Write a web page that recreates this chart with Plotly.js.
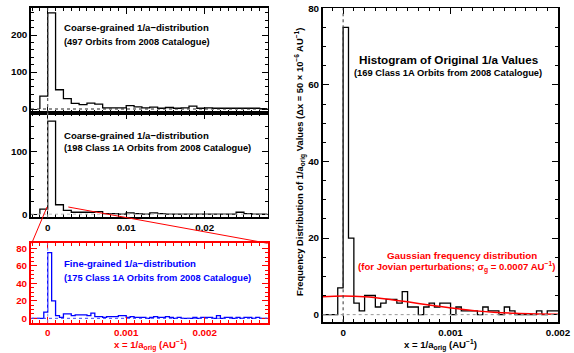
<!DOCTYPE html>
<html><head><meta charset="utf-8">
<script src="https://cdn.plot.ly/plotly-3.0.1.min.js"></script>
<style>html,body{margin:0;padding:0;background:#fff;} #chart{width:574px;height:353px;}</style>
</head><body><div id="chart"></div>
<script>
// ---- data ----
// Coarse-grained histograms (bin width 0.001 AU^-1, first bin starts at -0.001)
const coarseBinStart = -0.001;
const coarseBinWidth = 0.001;
const coarseAll497 = [35,260,52,28,15,12,16,13,3,3,3,9,6,3,5,2,4,2,3,8,2,3,2,2,2,2,2,2,1];
const coarse1A198 = [8,148,15,6,3,3,3,4,1,1,0,2,1,0,2,1,0,0,0,0,0,0,0,0,0,3,1,0,0];
// Fine-grained histogram (bin width 50e-6 AU^-1, first bin starts at -0.0002)
const fineBinStart = -0.0002;
const fineBinWidth = 0.00005;
const fine1A175 = [0,0,0,7,75,20,3,1,5,5,3,4,4,4,3,6,2,2,1,2,2,2,3,3,1,2,1,1,1,0,1,2,1,1,2,1,0,1,0,0,0,1,0,1,1,1,0,3,0,1,1,0,1,0,1,1,0,1,0,0,0];
// Histogram of original 1/a values (bin width 50e-6 AU^-1)
const origBinStart = -0.0002;
const origBinWidth = 0.00005;
const orig1A169 = [0,0,0,7,75,20,3,1,5,5,2,3,4,4,3,6,2,2,0,2,3,2,3,3,0,2,1,1,1,0,2,1,1,0,2,1,0,0,0,0,1,0,1,1];
// Gaussian frequency distribution
const gaussX = [-0.0002,0,0.0002,0.0004,0.0006,0.0008,0.001,0.0012,0.0014,0.0016,0.0018,0.002];
const gaussY = [4.65,4.85,4.65,4.1,3.35,2.5,1.75,1.1,0.65,0.35,0.18,0.08];
// tick labels
const coarseTickVals = [0,0.01,0.02];
const coarseTickText = ['0','0.01','0.02'];
const fineTickVals = [0,0.001,0.002];
const fineTickText = ['0','0.001','0.002'];

// ---- helpers ----
function stepXY(start,width,vals){
  const x=[start], y=[0];
  for(let i=0;i<vals.length;i++){ x.push(start+i*width); y.push(vals[i]); }
  x.push(start+vals.length*width); y.push(vals[vals.length-1]);
  return {x,y};
}
const W=574,H=353;
const FONT='Liberation Sans, Arial, sans-serif';
const TF=9.8;
function px(x,y){ return {x:x/W, y:1-y/H, xref:'paper', yref:'paper'}; }
function ax(o,color){
  color=color||'black';
  const base={showline:true, linecolor:color, linewidth:1.7, mirror:'allticks', ticks:'inside',
    ticklen:6, tickwidth:1, tickcolor:color, showgrid:false, zeroline:false, fixedrange:true,
    tickfont:{family:FONT,size:TF,color:color,weight:'bold'}};
  return Object.assign(base,o);
}
function minor(d,color){ return {ticks:'inside', ticklen:3, dtick:d, tick0:0, tickcolor:color||'black', tickwidth:1, showgrid:false}; }

const s1=stepXY(coarseBinStart,coarseBinWidth,coarseAll497);
const s2=stepXY(coarseBinStart,coarseBinWidth,coarse1A198);
const s3=stepXY(fineBinStart,fineBinWidth,fine1A175);
const s4=stepXY(origBinStart,origBinWidth,orig1A169);

const traces=[
  {type:'scatter',mode:'lines',x:s1.x,y:s1.y,xaxis:'x',yaxis:'y',line:{shape:'hv',color:'#000',width:1.3},hoverinfo:'skip'},
  {type:'scatter',mode:'lines',x:s2.x,y:s2.y,xaxis:'x2',yaxis:'y2',line:{shape:'hv',color:'#000',width:1.3},hoverinfo:'skip'},
  {type:'scatter',mode:'lines',x:s3.x,y:s3.y,xaxis:'x3',yaxis:'y3',line:{shape:'hv',color:'#0000ff',width:1.3},hoverinfo:'skip'},
  {type:'scatter',mode:'lines',x:s4.x,y:s4.y,xaxis:'x4',yaxis:'y4',line:{shape:'hv',color:'#000',width:1.3},hoverinfo:'skip'},
  {type:'scatter',mode:'lines',x:gaussX,y:gaussY,xaxis:'x4',yaxis:'y4',line:{shape:'spline',color:'#ff0000',width:1.5},hoverinfo:'skip'}
];

const L0=31/W, L1=267.5/W;
const layout={
  width:W,height:H,margin:{l:0,r:0,t:0,b:0},paper_bgcolor:'#fff',plot_bgcolor:'rgba(0,0,0,0)',
  showlegend:false, font:{family:FONT,size:9,color:'black',weight:'bold'},
  xaxis:ax({domain:[L0,L1],anchor:'y',range:[-0.00213,0.0280],tickvals:coarseTickVals,showticklabels:false,minor:minor(0.001)}),
  yaxis:ax({domain:[1-113/H,1-8/H],anchor:'x',range:[-10.8,273],tickvals:[0,100,200],minor:minor(20)}),
  xaxis2:ax({domain:[L0,L1],anchor:'y2',range:[-0.00213,0.0280],tickvals:coarseTickVals,ticktext:coarseTickText,minor:minor(0.001)}),
  yaxis2:ax({domain:[1-217.3/H,1-113/H],anchor:'x2',range:[-5,161],tickvals:[0,100],minor:minor(20)}),
  xaxis3:ax({domain:[L0,L1],anchor:'y3',range:[-0.000213,0.00280],tickvals:fineTickVals,ticktext:fineTickText,minor:minor(0.0001,'#ff0000'),linewidth:2},'#ff0000'),
  yaxis3:ax({domain:[1-322.7/H,1-243.3/H],anchor:'x3',range:[-5,85.7],tickvals:[0,20,40,60,80],minor:minor(5,'#ff0000'),linewidth:2},'#ff0000'),
  xaxis4:ax({domain:[322.7/W,558/W],anchor:'y4',range:[-0.00019,0.002],tickvals:fineTickVals,ticktext:fineTickText,minor:minor(0.0001)}),
  yaxis4:ax({domain:[1-322.3/H,1-8.3/H],anchor:'x4',range:[-2,80],tickvals:[0,20,40,60,80],minor:minor(5)}),
  shapes:[
    {type:'line',xref:'x',yref:'y domain',x0:0,x1:0,y0:0,y1:1,line:{color:'#444',width:1,dash:'dot'}},
    {type:'line',xref:'x domain',yref:'y',x0:0,x1:1,y0:0,y1:0,line:{color:'#222',width:1,dash:'dot'}},
    {type:'line',xref:'x2',yref:'y2 domain',x0:0,x1:0,y0:0,y1:1,line:{color:'#999',width:1,dash:'dot'}},
    {type:'line',xref:'x2 domain',yref:'y2',x0:0,x1:1,y0:0,y1:0,line:{color:'#bbb',width:1,dash:'dot'}},
    {type:'line',xref:'x3',yref:'y3 domain',x0:0,x1:0,y0:0,y1:1,line:{color:'#8080ff',width:1,dash:'dot'}},
    {type:'line',xref:'x3 domain',yref:'y3',x0:0,x1:1,y0:0,y1:0,line:{color:'#4040ff',width:1,dash:'dot'}},
    {type:'line',xref:'x4',yref:'y4 domain',x0:0,x1:0,y0:0,y1:1,line:{color:'#333',width:1,dash:'dot'}},
    {type:'line',xref:'x4 domain',yref:'y4',x0:0,x1:1,y0:0,y1:0,line:{color:'#999',width:1,dash:'dot'}},
    {type:'line',xref:'paper',yref:'paper',x0:47/W,y0:1-207/H,x1:31.7/W,y1:1-243.3/H,line:{color:'#ff0000',width:1}},
    {type:'line',xref:'paper',yref:'paper',x0:68.3/W,y0:1-207/H,x1:267.7/W,y1:1-243.3/H,line:{color:'#ff0000',width:1}}
  ],
  annotations:[]
};
function ann(text,x,y,opt){
  return Object.assign(px(x,y),{text:text,showarrow:false,xanchor:'left',yanchor:'middle',
    font:{family:FONT,size:9.3,color:'black',weight:'bold'}},opt||{});
}
const red='#ff0000', blue='#0000ff';
layout.annotations=[
  ann('Coarse-grained 1/a−distribution',62,27.5,{font:{family:FONT,size:9.6,color:'black',weight:'bold'}}),
  ann('(497 Orbits from 2008 Catalogue)',62,42),
  ann('Coarse-grained 1/a−distribution',62,135,{font:{family:FONT,size:9.6,color:'black',weight:'bold'}}),
  ann('(198 Class 1A Orbits from 2008 Catalogue)',62,148),
  ann('Fine-grained 1/a−distribution',62,263.5,{font:{family:FONT,size:9.6,color:blue,weight:'bold'}}),
  ann('(175 Class 1A Orbits from 2008 Catalogue)',62,277.5,{font:{family:FONT,size:9.3,color:blue,weight:'bold'}}),
  ann('x = 1/a<sub>orig</sub> (AU<sup>−1</sup>)',150,336,{xanchor:'center',yanchor:'top',font:{family:FONT,size:9.6,color:red,weight:'bold'}}),
  ann('Histogram of Original 1/a Values',449,59.5,{xanchor:'center',font:{family:FONT,size:11.7,color:'black',weight:'bold'}}),
  ann('(169 Class 1A Orbits from 2008 Catalogue)',448,73,{xanchor:'center',font:{family:FONT,size:9.35,color:'black',weight:'bold'}}),
  ann('Gaussian frequency distribution',462,255,{xanchor:'center',font:{family:FONT,size:9.8,color:red,weight:'bold'}}),
  ann('(for Jovian perturbations; σ<sub>g</sub> = 0.0007 AU<sup>−1</sup>)',456,267,{xanchor:'center',font:{family:FONT,size:9.6,color:red,weight:'bold'}}),
  ann('x = 1/a<sub>orig</sub> (AU<sup>−1</sup>)',440,336,{xanchor:'center',yanchor:'top',font:{family:FONT,size:9.6,color:'black',weight:'bold'}}),
  ann('Frequency Distribution of 1/a<sub>orig</sub> Values (Δx = 50 × 10<sup>−6</sup> AU<sup>−1</sup>)',300,162,{xanchor:'center',textangle:-90,font:{family:FONT,size:9.4,color:'black',weight:'bold'}})
];
Plotly.newPlot('chart',traces,layout,{staticPlot:true,displayModeBar:false});
</script></body></html>
